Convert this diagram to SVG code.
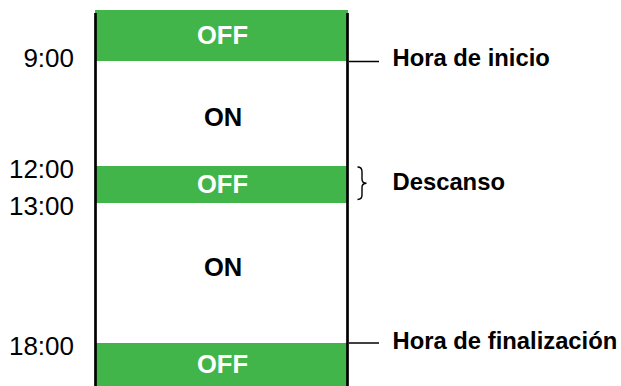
<svg xmlns="http://www.w3.org/2000/svg" width="621" height="386" viewBox="0 0 621 386">
<style>
.off{fill:#41b54a}
.ot{font-family:"Liberation Sans",Arial,sans-serif;font-weight:bold;font-size:25.5px;fill:#fff;text-anchor:middle}
.on{font-family:"Liberation Sans",Arial,sans-serif;font-weight:bold;font-size:25.5px;fill:#000;text-anchor:middle}
.tm{font-family:"Liberation Sans",Arial,sans-serif;font-size:26px;fill:#000;text-anchor:end}
.lb{font-family:"Liberation Sans",Arial,sans-serif;font-weight:bold;font-size:23.8px;fill:#000}
.ln{stroke:#000;fill:none}
</style>
<rect width="621" height="386" fill="#fff"/>
<g id="off1"><rect class="off" x="95" y="10" width="253" height="51"/><text class="ot" x="222.5" y="44.3">OFF</text></g>
<g id="on1"><text class="on" x="223" y="126">ON</text></g>
<g id="off2"><rect class="off" x="95" y="166" width="253" height="37"/><text class="ot" x="222.5" y="193.3">OFF</text></g>
<g id="on2"><text class="on" x="223" y="276">ON</text></g>
<g id="off3"><rect class="off" x="95" y="343" width="253" height="43"/><text class="ot" x="222.5" y="373.3">OFF</text></g>
<g id="times">
<text class="tm" x="74" y="67.3">9:00</text>
<text class="tm" x="74" y="177.5">12:00</text>
<text class="tm" x="74" y="214.5">13:00</text>
<text class="tm" x="74" y="354.5">18:00</text>
</g>
<g id="labels">
<text class="lb" x="392.5" y="66">Hora de inicio</text>
<text class="lb" x="392.5" y="190">Descanso</text>
<text class="lb" x="392.5" y="348.5">Hora de finalización</text>
</g>
<g id="connectors">
<line class="ln" x1="95.5" y1="13" x2="95.5" y2="386" stroke-width="2.7"/>
<line class="ln" x1="347.5" y1="13" x2="347.5" y2="386" stroke-width="2.7"/>
<line class="ln" x1="349" y1="61.5" x2="379" y2="61.5" stroke-width="1.5"/>
<line class="ln" x1="349" y1="343" x2="379" y2="343" stroke-width="1.5"/>
<path class="ln" stroke-width="1.4" d="M357.5,167 Q362,167 362,171.5 L362,179 Q362,183.3 366.5,183.3 Q362,183.3 362,187.5 L362,195 Q362,199.5 357.5,199.5"/>
</g>
</svg>
